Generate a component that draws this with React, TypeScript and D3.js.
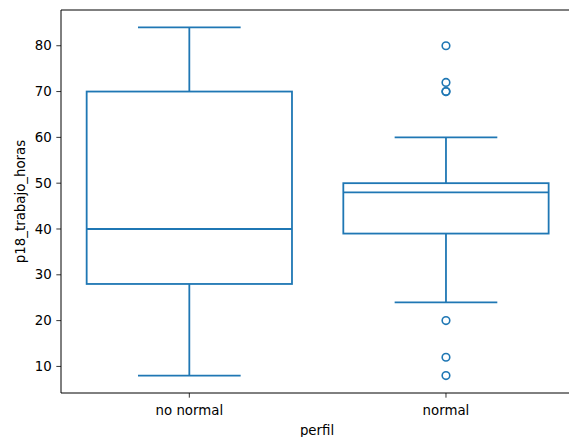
import React from "react";
import * as d3 from "d3";

const categories = ["no normal", "normal"];
const whiskerLow = [8, 24];
const q1 = [28, 39];
const medians = [40, 48];
const q3 = [70, 50];
const whiskerHigh = [84, 60];
const outliers: number[][] = [[], [80, 72, 70, 70, 20, 12, 8]];
const yTicks = [10, 20, 30, 40, 50, 60, 70, 80];

const W = 569;
const H = 437;
const left = 61;
const top = 10;
const bottom = 393;
const right = 574.3;
const color = "#1f77b4";
const font = "DejaVu Sans, sans-serif";
const tickLen = 4.67;
const pad = 4.67;

export default function App() {
  const x = d3.scaleLinear().domain([0.5, 2.5]).range([left, right]);
  const y = d3.scaleLinear().domain([4.2, 87.8]).range([bottom, top]);
  const bw = 0.8;
  const cw = 0.4;
  return (
    <svg width={W} height={H} style={{ position: "absolute", left: 0, top: 0, overflow: "hidden" }}>
      <rect x={0} y={0} width={W} height={H} fill="white" />
      {categories.map((c, i) => {
        const p = i + 1;
        const lw = 1.8;
        return (
          <g key={c} stroke={color} strokeWidth={lw} fill="none">
            <line x1={x(p)} x2={x(p)} y1={y(q1[i])} y2={y(whiskerLow[i])} />
            <line x1={x(p)} x2={x(p)} y1={y(q3[i])} y2={y(whiskerHigh[i])} />
            <line x1={x(p - cw / 2)} x2={x(p + cw / 2)} y1={y(whiskerLow[i])} y2={y(whiskerLow[i])} />
            <line x1={x(p - cw / 2)} x2={x(p + cw / 2)} y1={y(whiskerHigh[i])} y2={y(whiskerHigh[i])} />
            <rect
              x={x(p - bw / 2)}
              width={x(p + bw / 2) - x(p - bw / 2)}
              y={y(q3[i])}
              height={y(q1[i]) - y(q3[i])}
            />
            <line x1={x(p - bw / 2)} x2={x(p + bw / 2)} y1={y(medians[i])} y2={y(medians[i])} />
            {outliers[i].map((v, j) => (
              <circle key={j} cx={x(p)} cy={y(v)} r={3.8} strokeWidth={1.6} />
            ))}
          </g>
        );
      })}
      <line x1={left} x2={left} y1={top} y2={bottom} stroke="black" strokeWidth={1} />
      <line x1={left} x2={W} y1={bottom} y2={bottom} stroke="black" strokeWidth={1} />
      <line x1={left} x2={W} y1={top} y2={top} stroke="black" strokeWidth={1} />
      {yTicks.map((t) => (
        <g key={t}>
          <line x1={left - tickLen} x2={left} y1={y(t)} y2={y(t)} stroke="black" strokeWidth={0.8} />
          <text x={left - tickLen - pad} y={y(t)} dy="0.35em" textAnchor="end" fontFamily={font} fontSize={13.33} fill="black">
            {t}
          </text>
        </g>
      ))}
      {categories.map((c, i) => (
        <g key={c}>
          <line x1={x(i + 1)} x2={x(i + 1)} y1={bottom} y2={bottom + tickLen} stroke="black" strokeWidth={0.8} />
          <text x={x(i + 1)} y={bottom + tickLen + pad} dy="0.93em" textAnchor="middle" fontFamily={font} fontSize={13.33} fill="black">
            {c}
          </text>
        </g>
      ))}
      <text x={317} y={430} dy="0.35em" textAnchor="middle" fontFamily={font} fontSize={13.33} fill="black">
        perfil
      </text>
      <text
        transform={`translate(20, ${(top + bottom) / 2}) rotate(-90)`}
        dy="0.35em"
        textAnchor="middle"
        fontFamily={font}
        fontSize={13.33}
        fill="black"
      >
        p18_trabajo_horas
      </text>
    </svg>
  );
}
